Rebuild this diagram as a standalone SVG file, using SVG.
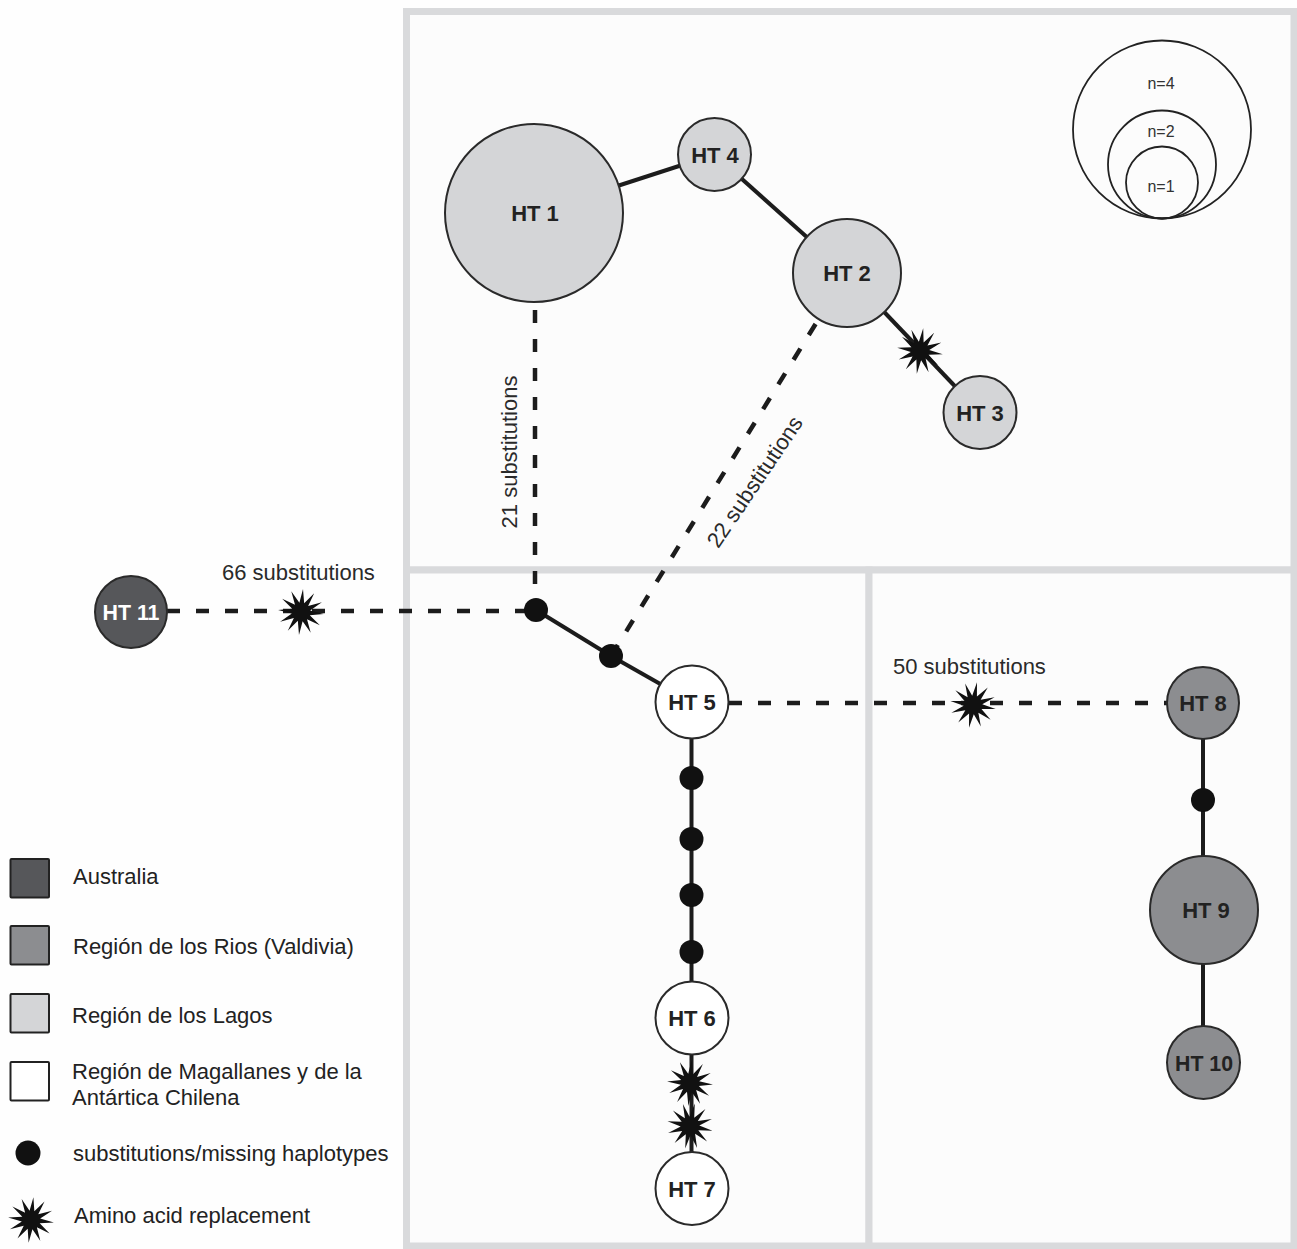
<svg xmlns="http://www.w3.org/2000/svg" xmlns:xlink="http://www.w3.org/1999/xlink" width="1297" height="1249" viewBox="0 0 1297 1249">
<defs>
<style>
.panel{fill:#fcfcfc;stroke:#d9dadc;stroke-width:7}
.solid{stroke:#1c1c1c;stroke-width:4;fill:none}
.dash{stroke:#1c1c1c;stroke-width:4.5;fill:none;stroke-dasharray:13 16}
.node{stroke:#2a2a2a;stroke-width:2}
.lagos{fill:#d4d5d7}
.rios{fill:#8c8d90}
.aus{fill:#56575a}
.mag{fill:#ffffff}
.lbl{font-family:"Liberation Sans",Arial,sans-serif;font-weight:bold;font-size:22px;fill:#222;text-anchor:middle}
.lblw{fill:#ffffff}
.dot{fill:#111}
.star{fill:#111}
.etxt{font-family:"Liberation Sans",Arial,sans-serif;font-size:22px;fill:#2a2a2a}
.ltxt{font-family:"Liberation Sans",Arial,sans-serif;font-size:22px;fill:#222}
.stxt{font-family:"Liberation Sans",Arial,sans-serif;font-size:16px;fill:#333;text-anchor:middle}
.scirc{fill:none;stroke:#222;stroke-width:1.8}
.key{stroke:#222;stroke-width:2}
</style>
<path id="burst" d="M23,0 L9,2.4 L19.92,11.5 L6.6,6.6 L11.5,19.92 L2.4,9 L0,23 L-2.4,9 L-11.5,19.92 L-6.6,6.6 L-19.92,11.5 L-9,2.4 L-23,0 L-9,-2.4 L-19.92,-11.5 L-6.6,-6.6 L-11.5,-19.92 L-2.4,-9 L0,-23 L2.4,-9 L11.5,-19.92 L6.6,-6.6 L19.92,-11.5 L9,-2.4 Z"/>
</defs>
<rect x="0" y="0" width="1297" height="1249" fill="#fefefe"/>
<g id="panels">
<rect class="panel" x="406.5" y="11.5" width="887.5" height="558.5"/>
<rect class="panel" x="406.5" y="570" width="462.5" height="676"/>
<rect class="panel" x="869" y="570" width="425" height="676"/>
</g>
<g id="connectors">
<line class="solid" x1="534" y1="213" x2="714.5" y2="154.5"/>
<line class="solid" x1="714.5" y1="154.5" x2="847" y2="273"/>
<line class="solid" x1="847" y1="273" x2="980" y2="412.5"/>
<line class="dash" x1="535" y1="310" x2="535" y2="610"/>
<line class="dash" x1="611" y1="656" x2="847" y2="273"/>
<line class="dash" x1="167" y1="611" x2="536" y2="611"/>
<line class="solid" x1="536" y1="610" x2="611" y2="656"/>
<line class="solid" x1="611" y1="656" x2="692" y2="702"/>
<line class="dash" x1="729" y1="703" x2="1167" y2="703"/>
<line class="solid" x1="691.5" y1="702" x2="691.5" y2="1188"/>
<line class="solid" x1="1203" y1="703" x2="1203" y2="1062"/>
</g>
<g id="mutations">
<use xlink:href="#burst" class="star" transform="translate(920,351) rotate(8)"/>
<use xlink:href="#burst" class="star" transform="translate(301,612) rotate(5)"/>
<use xlink:href="#burst" class="star" transform="translate(973,705) rotate(10)"/>
<use xlink:href="#burst" class="star" transform="translate(690,1083) rotate(4)"/>
<use xlink:href="#burst" class="star" transform="translate(690,1126) rotate(12)"/>
</g>
<g id="mv1"><circle class="dot" cx="536" cy="610" r="12"/></g>
<g id="mv2"><circle class="dot" cx="611" cy="656" r="12"/></g>
<g id="mv3"><circle class="dot" cx="691.5" cy="778" r="12"/></g>
<g id="mv4"><circle class="dot" cx="691.5" cy="839" r="12"/></g>
<g id="mv5"><circle class="dot" cx="691.5" cy="895" r="12"/></g>
<g id="mv6"><circle class="dot" cx="691.5" cy="952" r="12"/></g>
<g id="mv7"><circle class="dot" cx="1203" cy="800" r="12"/></g>
<g id="ht1"><circle class="node lagos" cx="534" cy="213" r="89"/><text class="lbl" x="535" y="220.5">HT 1</text></g>
<g id="ht4"><circle class="node lagos" cx="714.5" cy="154.5" r="36.5"/><text class="lbl" x="715" y="162.5">HT 4</text></g>
<g id="ht2"><circle class="node lagos" cx="847" cy="273" r="54"/><text class="lbl" x="847" y="281">HT 2</text></g>
<g id="ht3"><circle class="node lagos" cx="980" cy="412.5" r="36.5"/><text class="lbl" x="980" y="420.5">HT 3</text></g>
<g id="ht11"><circle class="node aus" cx="131" cy="612" r="36"/><text class="lbl lblw" x="131" y="620" textLength="57" lengthAdjust="spacingAndGlyphs">HT 11</text></g>
<g id="ht5"><circle class="node mag" cx="692" cy="702" r="36.5"/><text class="lbl" x="692" y="710">HT 5</text></g>
<g id="ht6"><circle class="node mag" cx="692" cy="1018" r="36.5"/><text class="lbl" x="692" y="1026">HT 6</text></g>
<g id="ht7"><circle class="node mag" cx="692" cy="1188.5" r="36.5"/><text class="lbl" x="692" y="1196.5">HT 7</text></g>
<g id="ht8"><circle class="node rios" cx="1203" cy="703" r="36"/><text class="lbl" x="1203" y="711">HT 8</text></g>
<g id="ht9"><circle class="node rios" cx="1204" cy="910" r="54"/><text class="lbl" x="1206" y="918">HT 9</text></g>
<g id="ht10"><circle class="node rios" cx="1203.5" cy="1062.5" r="36.5"/><text class="lbl" x="1204" y="1070.5" textLength="58" lengthAdjust="spacingAndGlyphs">HT 10</text></g>
<g id="edge-labels">
<text class="etxt" x="222" y="580">66 substitutions</text>
<text class="etxt" x="893" y="674">50 substitutions</text>
<text class="etxt" text-anchor="middle" transform="translate(517,452) rotate(-90)">21 substitutions</text>
<text class="etxt" text-anchor="middle" transform="translate(761,486) rotate(-56)">22 substitutions</text>
</g>
<g id="legend-size">
<circle class="scirc" cx="1162" cy="129.5" r="89"/>
<circle class="scirc" cx="1162" cy="164.5" r="54"/>
<circle class="scirc" cx="1162" cy="182.5" r="36"/>
<text class="stxt" x="1161" y="89">n=4</text>
<text class="stxt" x="1161" y="137">n=2</text>
<text class="stxt" x="1161" y="192">n=1</text>
</g>
<g id="legend-key">
<rect class="key aus" x="10.5" y="859" width="38.5" height="38.5" rx="1"/>
<rect class="key rios" x="10.5" y="926" width="38.5" height="38.5" rx="1"/>
<rect class="key lagos" x="10.5" y="994" width="38.5" height="38.5" rx="1"/>
<rect class="key mag" x="10.5" y="1062" width="38.5" height="38.5" rx="1"/>
<circle class="dot" cx="28" cy="1153" r="12.5"/>
<use xlink:href="#burst" class="star" transform="translate(31,1220) rotate(6)"/>
<text class="ltxt" x="73" y="884">Australia</text>
<text class="ltxt" x="73" y="954">Región de los Rios (Valdivia)</text>
<text class="ltxt" x="72" y="1023">Región de los Lagos</text>
<text class="ltxt" x="72" y="1079">Región de Magallanes y de la</text>
<text class="ltxt" x="72" y="1105">Antártica Chilena</text>
<text class="ltxt" x="73" y="1161">substitutions/missing haplotypes</text>
<text class="ltxt" x="74" y="1223">Amino acid replacement</text>
</g>
</svg>
